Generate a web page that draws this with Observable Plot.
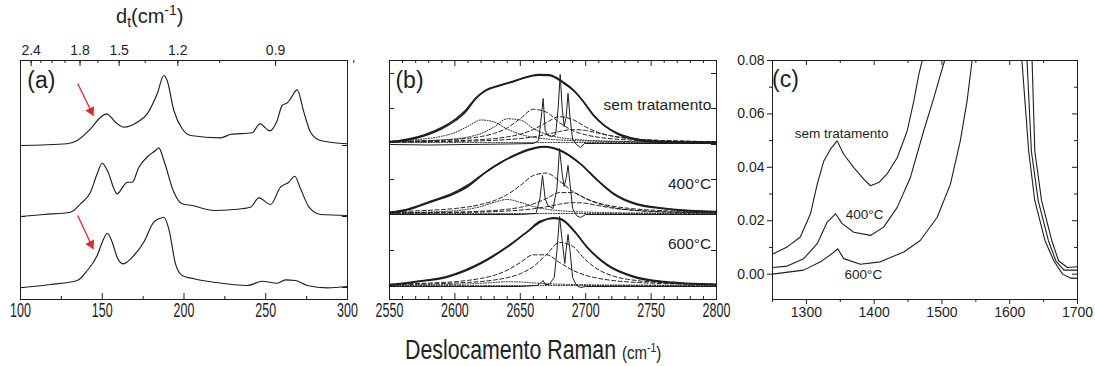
<!DOCTYPE html>
<html><head><meta charset="utf-8">
<script src="https://cdn.jsdelivr.net/npm/d3@7"></script>
<script src="https://cdn.jsdelivr.net/npm/@observablehq/plot@0.6"></script>
<style>
body{margin:0;background:#fff;}
#fig{position:relative;width:1095px;height:366px;overflow:hidden;font-family:"Liberation Sans",Arial,sans-serif;color:#222;}
#fig svg{position:absolute;left:0;top:0;overflow:visible;}
.lbl{position:absolute;white-space:nowrap;color:#222;line-height:1;}
.lbl sup{font-size:0.7em;vertical-align:0.55em;}
.lbl sub{font-size:0.7em;vertical-align:-0.3em;}
</style></head><body><div id="fig"></div>
<script>
// ---------------- DATA ----------------
// Panel (a): RBM region, three stacked spectra (intensity a.u., already offset)
const wA1 = [100,128.5,134.7,142.8,149,152.6,158.1,163.2,171.4,177.5,183.6,187.7,189.7,193.8,198.9,204,222.3,228.4,241.7,246.4,252.5,257,260,263.1,265.1,269.2,273.3,277.4,283.5,300];
const iA1 = [154,155.7,159,170.7,182.3,185.7,177.3,172.3,177.3,185.7,205.7,224,219,189,170.7,164,161.7,165,166.7,175.7,168.7,179,194,196.7,200.7,209.7,187.3,167.3,159,155.7];
const wA2 = [100,114.3,130.6,136.7,142.8,146.9,150,153.1,159.1,163.2,165.2,168.3,172.4,178.5,182.6,184.6,187.7,193.8,198.9,205,218.3,230.5,240.7,245.8,252.9,259,264.1,267.7,271.3,276.5,283.6,300];
const iA2 = [83,85,87.3,95.7,107.3,125.7,136.3,129,105.7,114,117.3,117.3,132.3,144,149,151.7,139,107.3,95.7,94,89,90,92.3,101.7,95,112.3,117.3,123.3,110.7,92.3,85,84];
const wA3 = [100,118.3,134.7,140.8,146.9,150,153.1,156.1,159.1,162.8,169.3,175.4,181.5,184.6,187.7,190.7,194.8,198.9,206,218.3,238.7,247.9,257,262.1,268.2,275.4,287.6,300];
const iA3 = [11.7,15,19,29,44,57.3,66.3,57.3,42.3,35.7,44,57.3,77.3,80.7,82.3,70.7,35.7,24,20.7,17.3,14,18.3,16.3,19.7,19,14,11.7,13];
const arrowsA = {w1:[135,135], i1:[216,84], w2:[144.5,144.5], i2:[184,50.7]};
const xTicksA = [100,150,200,250,300], xMinorA = [125,175,225,275];
const yTicksA = [154,83,12];
// top axis: tube diameter d_t, omega = A/d + B
const dFitA = 215.3, dFitB = 16.8;
const dTicks = [2.4,2.25,2.1,1.95,1.8,1.65,1.5,1.35,1.2,1.05,0.9,0.75];
const dLabels = [2.4,1.8,1.5,1.2,0.9];

// Panel (b): G' band, three groups (heights above each group's baseline)
const baseB = [157,86,14];
const gridB = [2550,2570,2590,2600,2610,2620,2630,2640,2650,2660,2670,2680,2690,2700,2710,2720,2740,2760,2780,2800];
const wB1 = [2550,2562,2577.5,2590,2600.5,2608,2616,2623,2633.5,2644,2654,2664,2672,2683,2691,2698.5,2706,2714,2724,2737,2754.5,2780,2800];
const hB1 = [0,2,7,13.7,22,30.3,43.7,52,57,61,65.3,68,67.7,60.3,52,40.3,27,17,8.7,3,0.5,0,0];
const fB1 = [0.5,3,8,15,23.5,32,44.5,51.5,56.5,60.5,65,67.3,67,59.5,51.5,40.5,27.5,17.5,9.5,4,1.3,0.5,0.3];
const wB2 = [2550,2565,2581,2598,2610,2623,2635,2645,2658,2668,2681,2696,2709,2721,2737,2760,2780,2800];
const hB2 = [0.5,4,11.3,19,27,40.5,51,58,64.7,67,63,49.7,33,19.7,9.7,4.7,2.5,1.5];
const fB2 = [1,4.8,12,20,28.5,41,51,57.5,64,66.5,62.5,49.5,33.5,20.5,10.5,5.3,3,2];
const wB3 = [2550,2570,2594,2619.5,2640,2655,2665.5,2675.6,2681,2691,2701,2716.5,2737,2760,2800];
const hB3 = [0,3.5,8.3,21.7,38.3,53.3,63.3,67.7,66.7,55,38.3,20,8.3,3.3,0.7];
const fB3 = [0.8,4,9,22.5,39,53.5,64.5,67,66,54.5,38.5,20.8,9,4,1.2];
// fitted components (group 1: sem tratamento)
const dot1B1 = [1.6,2.9,6.2,9.9,16.2,22.5,20.5,13.4,8.2,5.2,3.5,2.5,1.9,1.5,1.2,1.0,0.7,0.5,0.4,0.3];
const dot2B1 = [0.9,1.4,2.5,3.6,5.5,9,15.6,23.7,22.5,14,8.1,5,3.3,2.3,1.7,1.3,0.8,0.6,0.4,0.3];
const dash1B1 = [1.0,1.5,2.4,3.1,4.2,6.0,9.1,14.6,23.9,33.2,30.3,19.7,12.0,7.7,5.2,3.7,2.2,1.4,1.0,0.7];
const dash2B1 = [0.7,1.0,1.4,1.7,2.2,2.9,3.9,5.6,8.3,13,20,25.8,23,15.6,9.9,6.5,3.3,1.9,1.2,0.9];
const dash3B1 = [0.5,0.65,0.9,1.1,1.4,1.7,2.2,2.9,4.0,5.6,8.0,11,12.9,12,9.2,6.5,3.3,1.9,1.2,0.8];
// group 2: 400 C
const dot1B2 = [0.7,1.1,1.9,2.8,4.3,7,11.2,14,11.2,7,4.3,2.8,1.9,1.4,1.1,0.8,0.5,0.4,0.3,0.2];
const dash1B2 = [1.8,2.6,3.9,5.0,6.6,9.1,12.9,18.9,28,38,40.4,32.3,22.2,15,10.4,7.5,4.3,2.8,1.9,1.4];
const dash2B2 = [0.6,0.8,1.1,1.4,1.7,2.3,3.0,4.2,6.2,9.6,15,20.9,20.9,15,9.6,6.2,3.0,1.7,1.1,0.8];
const dash3B2 = [0.4,0.55,0.8,0.9,1.2,1.4,1.9,2.5,3.4,4.7,6.8,9.3,10.9,10.2,7.8,5.5,2.8,1.6,1.0,0.7];
// group 3: 600 C
const dot1B3 = [0.3,0.5,0.8,1.1,1.5,2.2,3,3.8,3.5,2.6,1.8,1.3,1,0.8,0.6,0.5,0.4,0.3,0.2,0.2];
const dash1B3 = [1.3,1.9,3.0,3.8,5.1,7.1,10.2,15.3,23,30.7,30.7,23,15.3,10.2,7.1,5.1,3.0,1.9,1.3,1.0];
const dash2B3 = [1.0,1.3,1.9,2.4,3.1,4.0,5.5,7.8,11.8,19,31,43,39.2,25.5,15.6,9.9,4.8,2.8,1.8,1.2];
// sharp narrow peaks
const wS1 = [2550,2580,2610,2640,2660,2664,2666,2667.5,2669,2671,2674,2677,2679,2680.5,2682,2683.5,2685,2686.5,2688,2690,2693,2696,2699,2710,2750,2800];
const hS1 = [-2,-2.5,-2,-1.5,-1,2,25,44,12,7,6,8,35,68,35,16,25,49,25,3,-2,-5,-1,-1,-1,-1];
const wS2 = [2550,2600,2650,2662,2665,2667,2669,2671,2675,2678,2680,2682,2683.5,2685,2686.5,2688,2690,2693,2696,2700,2750,2800];
const hS2 = [-1,-1,-1,0,15,38,15,8,5,25,65,40,27,35,48,30,5,-2,-4,-1,-1,-1];
const wS3 = [2550,2600,2650,2663,2666,2667.5,2669,2672,2676,2678,2680,2682,2684,2685,2686.5,2688,2690,2693,2696,2700,2750,2800];
const hS3 = [-1,-1,-1,0,3,5,1,1,8,35,69,45,22,35,51,35,8,0,-2,-1,-1,-1];
const xTicksB = [2550,2600,2650,2700,2750,2800];
const yTicksB = [13,49,85,120,155,191,226];
const groupNamesB = ["sem tratamento","400°C","600°C"];

// Panel (c): D band region
const wC1 = [1250,1252,1271.7,1291,1306,1316,1325.7,1335.5,1345.4,1355,1370,1384.6,1394.5,1406.8,1419,1434,1448.7,1458.4,1465.8,1470.8,1480,1500,1626,1633,1637,1647,1662,1672,1685,1700];
const iC1 = [0.0075,0.0077,0.0102,0.0139,0.0226,0.0337,0.0424,0.0468,0.0499,0.0449,0.0399,0.0356,0.0331,0.0343,0.0375,0.0436,0.0536,0.0647,0.0747,0.0799,0.097,0.14,0.14,0.08,0.046,0.0275,0.0126,0.005,0.0025,0.0028];
const wC2 = [1250,1271.7,1296,1316,1330.7,1343,1352.8,1370,1394.5,1414,1434,1453.5,1473,1488,1497.8,1504,1515,1540,1619,1625.5,1632,1642,1657,1668,1680,1700];
const iC2 = [0.0025,0.003,0.0058,0.0114,0.0195,0.0226,0.0189,0.0157,0.0145,0.0176,0.025,0.0362,0.0536,0.066,0.0747,0.08,0.1,0.14,0.14,0.08,0.046,0.0275,0.0126,0.005,0.0015,0.0015];
const wC3 = [1250,1296,1320.8,1338,1346.3,1355,1379.8,1409,1443.7,1468,1493,1512.5,1527,1537,1544.5,1555,1580,1612,1618,1628,1637,1652,1665,1678,1690,1700];
const iC3 = [0.0,0.0015,0.0046,0.0077,0.0095,0.0058,0.0037,0.0046,0.0083,0.0126,0.0213,0.0337,0.0498,0.0647,0.08,0.11,0.14,0.14,0.08,0.046,0.0275,0.0126,0.005,0.0,-0.0015,-0.0016];
const xTicksC = [1300,1400,1500,1600,1700], xMinorC = [1250,1350,1450,1550,1650];
const yTicksC = [0,0.02,0.04,0.06,0.08], yMinorC = [0.01,0.03,0.05,0.07];

// ---------------- LAYOUT ----------------
const W = 1095, H = 366, TOP = 60, BOT = 299;
const FH = BOT - TOP;
const INK = "#1e1e1e";
const RED = "#e5232b";
const FONT = "'Liberation Sans', Arial, Helvetica, sans-serif";
const fig = document.getElementById("fig");

function inTicksX(vals, len, side) {
  const o = {x: d => d, stroke: INK, strokeWidth: 1};
  if (side === "bottom") o.insetTop = FH - len; else o.insetBottom = FH - len;
  return Plot.ruleX(vals, o);
}
function inTicksY(vals, len, side, FW) {
  const o = {y: d => d, stroke: INK, strokeWidth: 1};
  if (side === "left") o.insetRight = FW - len; else o.insetLeft = FW - len;
  return Plot.ruleY(vals, o);
}
const rowsOf = (ws, vs, s, base = 0) => ws.map((x, i) => ({x, y: base + vs[i], s}));

// ---------- Panel (a) ----------
const aL = 20, aR = 347, aFW = aR - aL;
const rowsA = [...rowsOf(wA1, iA1, 0), ...rowsOf(wA2, iA2, 1), ...rowsOf(wA3, iA3, 2)];
const arrowRows = arrowsA.w1.map((w, i) => ({x1: w, y1: arrowsA.i1[i], x2: arrowsA.w2[i], y2: arrowsA.i2[i]}));
const wOfD = d => dFitA / d + dFitB;
const plotA = Plot.plot({
  width: W, height: H, marginLeft: aL, marginRight: W - aR, marginTop: TOP, marginBottom: H - BOT,
  x: {domain: [100, 300]}, y: {domain: [0, FH]},
  style: {background: "transparent", fontFamily: FONT, color: INK, overflow: "visible"},
  marks: [
    Plot.line(rowsA, {x: "x", y: "y", z: "s", curve: "monotone-x", stroke: INK, strokeWidth: 1.15}),
    Plot.link(arrowRows, {x1: "x1", y1: "y1", x2: "x2", y2: "y2", stroke: RED, strokeWidth: 1.3}),
    Plot.dot(arrowRows, {x: "x2", y: "y2", symbol: "triangle", r: 3.6, fill: RED, stroke: null, rotate: 153, dx: -2.3, dy: -4.6}),
    inTicksX(xTicksA, 6, "bottom"), inTicksX(xMinorA, 3, "bottom"),
    inTicksX(dTicks.map(wOfD), 3, "top"), inTicksX(dLabels.map(wOfD), 6, "top"),
    inTicksY(yTicksA, 5, "left", aFW), inTicksY(yTicksA, 5, "right", aFW),
    Plot.axisX(xTicksA, {anchor: "bottom", tickSize: 0, tickPadding: 4, fontSize: 19.5, label: null, tickFormat: d => String(d)}),
    Plot.axisY([], {label: null}),
    Plot.text(dLabels, {x: wOfD, frameAnchor: "top", dy: -15, text: d => d.toFixed(1), fontSize: 14}),
    Plot.text(["(a)"], {x: [112.8], y: [219], text: d => d, fontSize: 23}),
    Plot.frame({stroke: INK, strokeWidth: 1})
  ]
});

// ---------- Panel (b) ----------
const bL = 389, bR = 716, bFW = bR - bL;
const solidB = [...rowsOf(wB1, hB1, "m1", baseB[0]), ...rowsOf(wB1, fB1, "f1", baseB[0]),
  ...rowsOf(wB2, hB2, "m2", baseB[1]), ...rowsOf(wB2, fB2, "f2", baseB[1]),
  ...rowsOf(wB3, hB3, "m3", baseB[2]), ...rowsOf(wB3, fB3, "f3", baseB[2])];
const spikesB = [...rowsOf(wS1, hS1, 1, baseB[0]), ...rowsOf(wS2, hS2, 2, baseB[1]), ...rowsOf(wS3, hS3, 3, baseB[2])];
const dashedB = [...rowsOf(gridB, dash1B1, "a1", baseB[0]), ...rowsOf(gridB, dash2B1, "b1", baseB[0]), ...rowsOf(gridB, dash3B1, "c1", baseB[0]),
  ...rowsOf(gridB, dash1B2, "a2", baseB[1]), ...rowsOf(gridB, dash2B2, "b2", baseB[1]), ...rowsOf(gridB, dash3B2, "c2", baseB[1]),
  ...rowsOf(gridB, dash1B3, "a3", baseB[2]), ...rowsOf(gridB, dash2B3, "b3", baseB[2])];
const zeros = gridB.map(() => 0);
const dottedB = [...rowsOf(gridB, dot1B1, "p1", baseB[0]), ...rowsOf(gridB, dot2B1, "q1", baseB[0]), ...rowsOf(gridB, zeros, "z1", baseB[0]),
  ...rowsOf(gridB, dot1B2, "p2", baseB[1]), ...rowsOf(gridB, zeros, "z2", baseB[1]),
  ...rowsOf(gridB, dot1B3, "p3", baseB[2]), ...rowsOf(gridB, zeros, "z3", baseB[2])];
const labelsB = groupNamesB.map((t, i) => ({t, y: baseB[i] + [37, 29, 41][i]}));
const xMinorB = d3.range(2560, 2800, 10).filter(v => v % 50 !== 0);
const plotB = Plot.plot({
  width: W, height: H, marginLeft: bL, marginRight: W - bR, marginTop: TOP, marginBottom: H - BOT,
  x: {domain: [2550, 2800]}, y: {domain: [0, FH]},
  style: {background: "transparent", fontFamily: FONT, color: INK, overflow: "visible"},
  marks: [
    Plot.line(dottedB, {x: "x", y: "y", z: "s", curve: "monotone-x", stroke: INK, strokeWidth: 1, strokeDasharray: "1,1.6"}),
    Plot.line(dashedB, {x: "x", y: "y", z: "s", curve: "monotone-x", stroke: INK, strokeWidth: 1, strokeDasharray: "4,2.5"}),
    Plot.line(spikesB, {x: "x", y: "y", z: "s", curve: "linear", stroke: INK, strokeWidth: 1}),
    Plot.line(solidB, {x: "x", y: "y", z: "s", curve: "monotone-x", stroke: INK, strokeWidth: 1.5}),
    inTicksX(xTicksB, 6, "bottom"), inTicksX(xMinorB, 3, "bottom"),
    inTicksX(xTicksB, 6, "top"), inTicksX(xMinorB, 3, "top"),
    inTicksY(yTicksB, 5, "left", bFW), inTicksY(yTicksB, 5, "right", bFW),
    Plot.axisX(xTicksB, {anchor: "bottom", tickSize: 0, tickPadding: 4, fontSize: 19.5, label: null, tickFormat: d => String(d)}),
    Plot.axisY([], {label: null}),
    Plot.text(labelsB, {x: 2796, y: "y", text: "t", textAnchor: "end", fontSize: 15.5}),
    Plot.text(["(b)"], {x: [2565.3], y: [219], text: d => d, fontSize: 23}),
    Plot.frame({stroke: INK, strokeWidth: 1})
  ]
});

// ---------- Panel (c) ----------
const cL = 772, cR = 1077, cFW = cR - cL;
const rowsC = [...rowsOf(wC1, iC1, 0), ...rowsOf(wC2, iC2, 1), ...rowsOf(wC3, iC3, 2)];
const labelsC = [{t: "sem tratamento", x: 1352, y: 0.0525}, {t: "400°C", x: 1386, y: 0.0222}, {t: "600°C", x: 1384, y: -0.0002}];
const plotC = Plot.plot({
  width: W, height: H, marginLeft: cL, marginRight: W - cR, marginTop: TOP, marginBottom: H - BOT,
  x: {domain: [1250, 1700]}, y: {domain: [-0.0095, 0.08]},
  style: {background: "transparent", fontFamily: FONT, color: INK, overflow: "visible"},
  marks: [
    Plot.line(rowsC, {x: "x", y: "y", z: "s", curve: "linear", stroke: INK, strokeWidth: 1.1, clip: true}),
    Plot.axisY(yTicksC, {anchor: "left", tickSize: 5, tickPadding: 3, fontSize: 14, label: null, tickFormat: d3.format(".2f")}),
    Plot.axisY(yMinorC, {anchor: "left", tickSize: 3, tickFormat: () => "", label: null}),
    Plot.axisX(xTicksC, {anchor: "bottom", tickSize: 5, tickPadding: 3, fontSize: 14, label: null, tickFormat: d => String(d)}),
    Plot.axisX(xMinorC, {anchor: "bottom", tickSize: 3, tickFormat: () => "", label: null}),
    inTicksX(xTicksC, 5, "top"), inTicksX(xMinorC, 3, "top"),
    inTicksY(yTicksC, 5, "right", cFW), inTicksY(yMinorC, 3, "right", cFW),
    Plot.text(labelsC, {x: "x", y: "y", text: "t", fontSize: 13.5}),
    Plot.text(["(c)"], {x: [1269], y: [0.0729], text: d => d, fontSize: 23}),
    Plot.frame({stroke: INK, strokeWidth: 1})
  ]
});

fig.append(plotA, plotB, plotC);

// condensed bottom tick labels of panels (a) and (b), as in the original figure
for (const svg of [plotA, plotB]) {
  svg.querySelectorAll('g[aria-label="x-axis tick label"] text').forEach(t => {
    const L = t.getComputedTextLength();
    t.setAttribute("textLength", (L * 0.64).toFixed(1));
    t.setAttribute("lengthAdjust", "spacingAndGlyphs");
  });
}

// titles
const t1 = document.createElement("div");
t1.className = "lbl";
t1.style.cssText = "left:116px;top:3px;font-size:20px;";
t1.innerHTML = "d<sub>t</sub>(cm<sup>-1</sup>)";
fig.append(t1);
const t2 = document.createElement("div");
t2.className = "lbl";
t2.style.cssText = "left:405px;top:337px;font-size:27px;transform:scaleX(0.79);transform-origin:left center;";
t2.innerHTML = "Deslocamento Raman <span style='font-size:19px'>(cm<sup>-1</sup>)</span>";
fig.append(t2);
</script></body></html>
